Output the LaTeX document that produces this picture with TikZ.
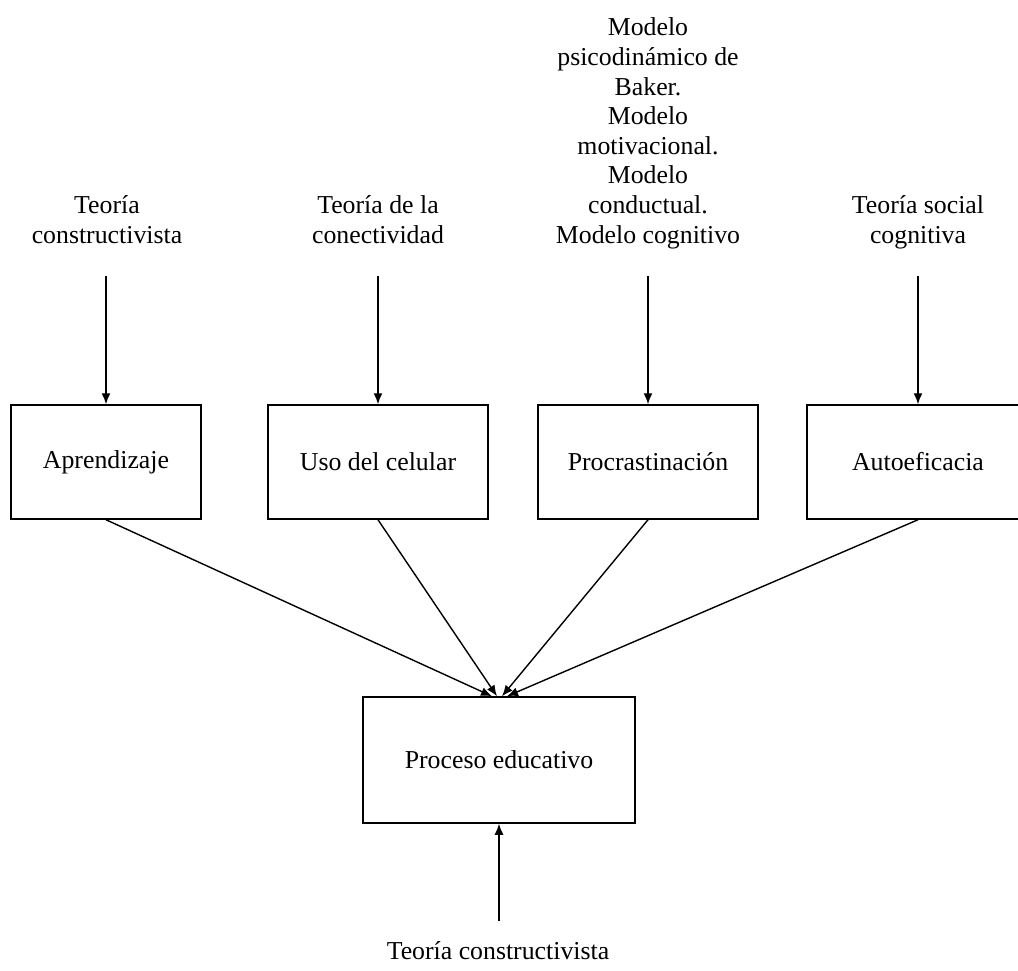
\documentclass[tikz,border=0pt]{standalone}
\usepackage{fontspec}
\setmainfont{Liberation Serif}
\usetikzlibrary{arrows.meta,positioning}
\tikzstyle{block} = [draw, rectangle, fill=white, line width=1.5pt, minimum height=114pt, minimum width=220pt, inner sep=0pt]
\tikzstyle{theory} = [align=center, inner sep=0pt, anchor=base]
\tikzstyle{link} = [line width=1.4pt]

\begin{document}
\begin{tikzpicture}[x=1pt, y=-1pt, >={Latex[length=11pt,width=9pt]}, font=\fontsize{25.8}{29.6}\selectfont]
    \path [use as bounding box, clip] (0,0) rectangle (1018,971);

    % variables
    \node [block, minimum width=190pt] (apr) at (106,462) {Aprendizaje};
    \node [block] (cel) at (378,462) {Uso del celular};
    \node [block] (pro) at (648,462) {Procrastinación};
    \node [block, minimum width=222pt] (aut) at (918,462) {Autoeficacia};
    \node [block, minimum width=272pt, minimum height=126pt] (edu) at (499,760) {Proceso educativo};

    % theories (base = last line)
    \node [theory] (th1) at (107,243) {Teoría\\constructivista};
    \node [theory] (th2) at (378,243) {Teoría de la\\conectividad};
    \node [theory] (th3) at (648,243) {Modelo\\psicodinámico de\\Baker.\\Modelo\\motivacional.\\Modelo\\conductual.\\Modelo cognitivo};
    \node [theory] (th4) at (918,243) {Teoría social\\cognitiva};
    \node [theory] (th5) at (498,959) {Teoría constructivista};

    \coordinate [above=128pt of apr.north] (c1);
    \coordinate [above=128pt of cel.north] (c2);
    \coordinate [above=128pt of pro.north] (c3);
    \coordinate [above=128pt of aut.north] (c4);
    \coordinate [below=97pt of edu.south] (c5);

    \draw [link, ->] (c1) -- (apr);
    \draw [link, ->] (c2) -- (cel);
    \draw [link, ->] (c3) -- (pro);
    \draw [link, ->] (c4) -- (aut);
    \draw [link, ->] (c5) -- (edu);

    \draw [link, ->] (apr.south) -- ([xshift=-7pt]edu.north);
    \draw [link, ->] (cel.south) -- ([xshift=-2pt]edu.north);
    \draw [link, ->] (pro.south) -- ([xshift=3pt]edu.north);
    \draw [link, ->] (aut.south) -- ([xshift=8pt]edu.north);
\end{tikzpicture}
\end{document}
